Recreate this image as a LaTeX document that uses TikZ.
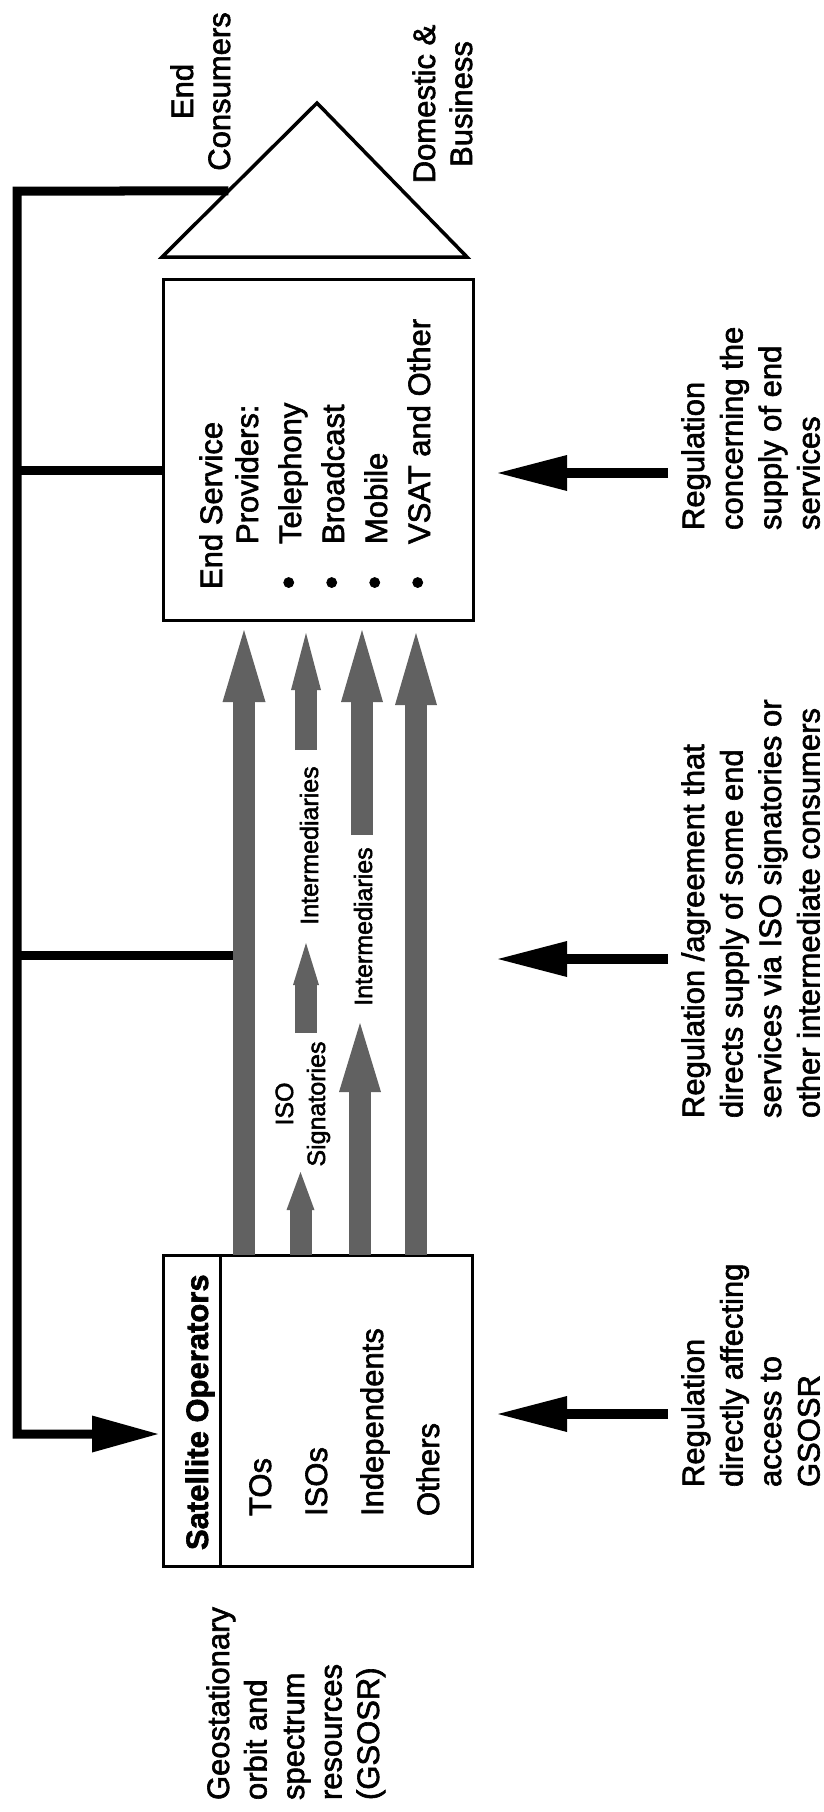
\documentclass[tikz,border=0pt]{standalone}
\usepackage{fontspec}
\setmainfont{Liberation Sans}[RawFeature={embolden=2}]
\usetikzlibrary{arrows.meta,calc}
\definecolor{stip}{gray}{0.38}
\begin{document}
\begin{tikzpicture}[x=1pt,y=-1pt,
  boxst/.style={draw, line width=3pt, inner sep=0pt, outer sep=0pt},
  fb/.style={line width=9pt, line join=miter},
  reg/.style={line width=10pt, -{Triangle[length=69pt,width=36pt,line width=0pt]}},
  sarr/.style 2 args={line width=22pt, color=stip, -{Triangle[length=#1pt,width=#2pt,line width=0pt]}},
  lbl/.style={rotate=90, anchor=base west, inner sep=0pt, outer sep=0pt},
  ctr/.style={rotate=90, anchor=base, inner sep=0pt, outer sep=0pt},
  txt/.style={font=\fontsize{31}{38.5}\selectfont},
  small/.style={font=\fontsize{25}{32}\selectfont}
]
\useasboundingbox (0,0) rectangle (823,1812);

% end consumers triangle
\coordinate (apex) at (317,103);
\coordinate (tbl) at (162,257);
\coordinate (tbr) at (467,257);
\draw[line width=3.5pt, line join=miter] (apex) -- (tbl) -- (tbr) -- cycle;
\coordinate (triL) at ($(tbl)!0.4286!(apex)$);

% boxes
\node[boxst, minimum width=310pt, minimum height=341pt] (esp) at (318,449.5) {};
\node[boxst, minimum width=309pt, minimum height=311pt] (sat) at (317.5,1410.5) {};
\draw[line width=3pt] ($(sat.north west)+(57,0)$) -- ($(sat.south west)+(57,0)$);

% feedback lines
\coordinate (fbTL) at (17,191);
\coordinate (fbBL) at (17,1434);
\coordinate (fbIn) at ($(sat.west)+(0,23.5)$);
\draw[fb, -{Triangle[length=66pt,width=37pt,line width=0pt]}, shorten >=5pt]
  (triL) -- (fbTL) -- (fbBL) -- (fbIn);
\coordinate (fb2) at (17,470);
\draw[fb] (fb2) -- (fb2 -| esp.west);
\coordinate (s1) at ($(sat.north west)+(81,0)$);
\coordinate (fb3) at (17,955);
\draw[fb] (fb3) -- (fb3 -| s1);

% shaded flow arrows
\coordinate (s2) at ($(sat.north west)+(137.5,0)$);
\coordinate (s3) at ($(sat.north west)+(197,0)$);
\coordinate (s4) at ($(sat.north west)+(253,0)$);
\draw[sarr={72}{43}, shorten >=10pt] (s1) -- (s1 |- esp.south);
\draw[sarr={72}{42}, shorten >=13pt] (s4) -- (s4 |- esp.south);
% ISO signatories chain
\coordinate (t2a) at (300.5,1172);
\draw[sarr={38}{28}] (s2) -- (t2a);
\coordinate (b2b) at (306,1033);
\coordinate (t2b) at (306,943);
\draw[sarr={42}{26}] (b2b) -- (t2b);
\coordinate (b2c) at (306,750);
\draw[sarr={57}{30}, shorten >=13pt] (b2c) -- (b2c |- esp.south);
% independents chain
\coordinate (t3a) at (360,1023);
\draw[sarr={69}{42}] (s3) -- (t3a);
\coordinate (b3b) at (362,835);
\draw[sarr={72}{42}, shorten >=10pt] (b3b) -- (b3b |- esp.south);

% flow labels
\node[ctr, small] (isosig) at (293,1104) {\begin{tabular}[t]{@{}c@{}}ISO\\Signatories\end{tabular}};
\node[ctr, small] (inter1) at (318,845.5) {Intermediaries};
\node[ctr, small] (inter2) at (372,926.5) {Intermediaries};

% regulation arrows
\coordinate (r1) at (668,473);
\draw[reg, shorten >=25pt] (r1) -- (r1 -| esp.east);
\coordinate (r2) at (668,959);
\coordinate (r2t) at (498,959);
\draw[reg] (r2) -- (r2t);
\coordinate (r3) at (668,1414);
\draw[reg, shorten >=26pt] (r3) -- (r3 -| sat.east);

% texts
\node[ctr, font=\fontsize{31}{37}\selectfont] (endc) at (193,91.5)
  {\begin{tabular}[t]{@{}c@{}}End\\Consumers\end{tabular}};
\node[ctr, font=\fontsize{31}{37}\selectfont] (domb) at (435,104)
  {\begin{tabular}[t]{@{}c@{}}Domestic \&\\Business\end{tabular}};
\newcommand{\bul}{{\fontsize{37}{43}\selectfont\textbullet}}
\node[lbl, font=\fontsize{31}{43}\selectfont] (esptext) at (222,589)
  {\begin{tabular}[t]{@{}p{45pt}@{}l@{}}\multicolumn{2}{@{}l@{}}{End Service}\\[-7pt]
   & Providers:\\ \bul & Telephony\\ \bul & Broadcast\\
   \bul & Mobile\\ \bul & VSAT and Other\end{tabular}};
\node[lbl, font=\bfseries\fontsize{31}{38}\selectfont] (sattitle) at (208,1550) {Satellite Operators};
\node[lbl, font=\fontsize{31}{56}\selectfont] (satitems) at (271,1516)
  {\begin{tabular}[t]{@{}l@{}}TOs\\ISOs\\Independents\\Others\end{tabular}};
\node[lbl, font=\fontsize{31}{37.5}\selectfont] (gsosr) at (229,1800)
  {\begin{tabular}[t]{@{}l@{}}Geostationary\\orbit and\\spectrum\\resources\\(GSOSR)\end{tabular}};
\node[lbl, txt] (reg1) at (704,530)
  {\begin{tabular}[t]{@{}l@{}}Regulation\\concerning the\\supply of end\\services\end{tabular}};
\node[lbl, txt] (reg2) at (704,1118)
  {\begin{tabular}[t]{@{}l@{}}Regulation /agreement that\\directs supply of some end\\services via ISO signatories or\\other intermediate consumers\end{tabular}};
\node[lbl, txt] (reg3) at (704,1487)
  {\begin{tabular}[t]{@{}l@{}}Regulation\\directly affecting\\access to\\GSOSR\end{tabular}};
\end{tikzpicture}
\end{document}
